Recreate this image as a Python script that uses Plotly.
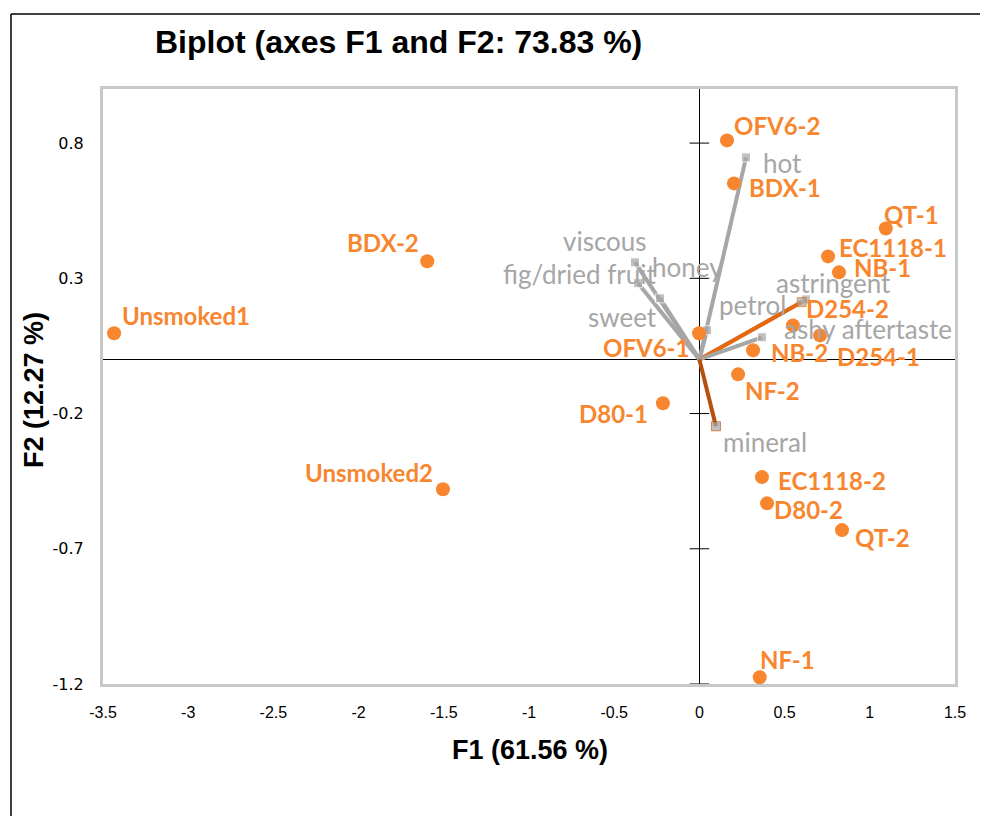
import plotly.graph_objects as go

# ---- data: observations (F1, F2) ----
obs_names = ["OFV6-2", "BDX-1", "QT-1", "EC1118-1", "NB-1", "D254-2", "D254-1", "NB-2", "NF-2",
             "OFV6-1", "D80-1", "BDX-2", "Unsmoked1", "Unsmoked2", "EC1118-2", "D80-2", "QT-2", "NF-1"]
obs_f1 = [0.162, 0.203, 1.094, 0.755, 0.819, 0.549, 0.708, 0.315, 0.227,
          -0.002, -0.214, -1.597, -3.435, -1.505, 0.367, 0.397, 0.837, 0.354]
obs_f2 = [0.810, 0.651, 0.484, 0.381, 0.322, 0.126, 0.089, 0.034, -0.055,
          0.097, -0.162, 0.363, 0.097, -0.480, -0.435, -0.532, -0.631, -1.175]

# ---- data: variables (loadings) ----
var_names = ["hot", "viscous", "fig/dried fruit", "sweet", "honey", "astringent", "petrol",
             "ashy aftertaste", "mineral"]
var_f1 = [0.274, -0.378, -0.360, -0.231, 0.045, 0.626, 0.600, 0.367, 0.097]
var_f2 = [0.747, 0.359, 0.282, 0.226, 0.108, 0.222, 0.212, 0.082, -0.247]

x_ticks = [-3.5, -3, -2.5, -2, -1.5, -1, -0.5, 0, 0.5, 1, 1.5]
y_ticks = [0.8, 0.3, -0.2, -0.7, -1.2]

# ---- styles (label pixel offsets, colours) ----
ORANGE = "#F7862F"
GRAY = "#A6A6A6"
var_line_colors = {"astringent": GRAY, "petrol": "#E8670C", "mineral": "#B5500F"}
obs_label_offset = {
    "OFV6-2": (50, 15), "BDX-1": (51, -4), "QT-1": (26, 14), "EC1118-1": (65, 9),
    "NB-1": (44, 5), "D254-2": (55, 17), "D254-1": (58, -21), "NB-2": (46, -2),
    "NF-2": (34, -16), "OFV6-1": (-53, -14), "D80-1": (-49, -10), "BDX-2": (-44, 19),
    "Unsmoked1": (72, 18), "Unsmoked2": (-74, 17), "EC1118-2": (70, -3),
    "D80-2": (41, -6), "QT-2": (40, -7), "NF-1": (28, 18),
}
var_label_offset = {
    "hot": (36, -6), "viscous": (-30, 21), "fig/dried fruit": (-59, 9), "sweet": (-38, -19),
    "honey": (-20, 63), "astringent": (27, 16), "petrol": (-49, -3),
    "ashy aftertaste": (106, 8), "mineral": (49, -16),
}

fig = go.Figure()

# variable vectors
for n, vx, vy in zip(var_names, var_f1, var_f2):
    fig.add_trace(go.Scatter(
        x=[0, vx], y=[0, vy], mode="lines+markers",
        line=dict(color=var_line_colors.get(n, GRAY), width=4),
        marker=dict(symbol="square", size=[0, 9], color=GRAY),
        showlegend=False, hoverinfo="skip"))

# axis tick marks on the vertical zero line
fig.add_trace(go.Scatter(
    x=[0] * len(y_ticks), y=y_ticks, mode="markers",
    marker=dict(symbol="line-ew", size=14, line=dict(color="black", width=1)),
    showlegend=False, hoverinfo="skip"))

# observations
fig.add_trace(go.Scatter(
    x=obs_f1, y=obs_f2, mode="markers", text=obs_names,
    marker=dict(size=14, color=ORANGE), showlegend=False))

annotations = []
for n, ox, oy in zip(obs_names, obs_f1, obs_f2):
    dx, dy = obs_label_offset[n]
    annotations.append(dict(x=ox, y=oy, xref="x", yref="y", text=n, showarrow=False,
                            xshift=dx, yshift=dy,
                            font=dict(family="Lato", size=24, color=ORANGE, weight="bold")))
for n, vx, vy in zip(var_names, var_f1, var_f2):
    dx, dy = var_label_offset[n]
    annotations.append(dict(x=vx, y=vy, xref="x", yref="y", text=n, showarrow=False,
                            xshift=dx, yshift=dy,
                            font=dict(family="Lato", size=26, color=GRAY)))

# axis titles
annotations.append(dict(x=0.501, y=-0.111, xref="paper", yref="paper", yanchor="middle",
                        text="<b>F1 (61.56 %)</b>", showarrow=False,
                        font=dict(family="Liberation Sans", size=27, color="black")))
annotations.append(dict(x=-0.081, y=0.494, xref="paper", yref="paper", xanchor="center",
                        yanchor="middle",
                        text="<b>F2 (12.27 %)</b>", showarrow=False, textangle=-90,
                        font=dict(family="Liberation Sans", size=27, color="black")))

fig.update_layout(
    width=988, height=816,
    margin=dict(l=95, r=41, t=81, b=140),
    paper_bgcolor="white", plot_bgcolor="white",
    title=dict(text="<b>Biplot (axes F1 and F2: 73.83 %)</b>", x=147 / 988, xanchor="left",
               y=1 - 34 / 816, yanchor="middle", xref="container", yref="container",
               font=dict(family="Liberation Sans", size=32, color="black")),
    xaxis=dict(range=[-3.5, 1.5], tickvals=x_ticks, ticktext=[f"{v:g}" for v in x_ticks],
               showgrid=False, zeroline=True, zerolinecolor="black", zerolinewidth=1,
               showline=True, mirror=True, linecolor="#C8C8C8", linewidth=3,
               ticks="", ticklabelstandoff=12,
               tickfont=dict(family="Liberation Sans", size=16, color="black")),
    yaxis=dict(range=[-1.2, 1.0], tickvals=y_ticks, ticktext=[f"{v:g}" for v in y_ticks],
               showgrid=False, zeroline=True, zerolinecolor="black", zerolinewidth=1,
               showline=True, mirror=True, linecolor="#C8C8C8", linewidth=3,
               ticks="", ticklabelstandoff=13,
               tickfont=dict(family="DejaVu Sans", size=16, color="black")),
    annotations=annotations,
    shapes=[
        dict(type="line", xref="paper", yref="paper", x0=-0.108, x1=-0.108, y0=1.126, y1=-0.25,
             line=dict(color="black", width=1.5)),
        dict(type="line", xref="paper", yref="paper", x0=-0.108, x1=1.1, y0=1.126, y1=1.126,
             line=dict(color="black", width=1.5)),
    ],
)

fig.write_html("out.html")
